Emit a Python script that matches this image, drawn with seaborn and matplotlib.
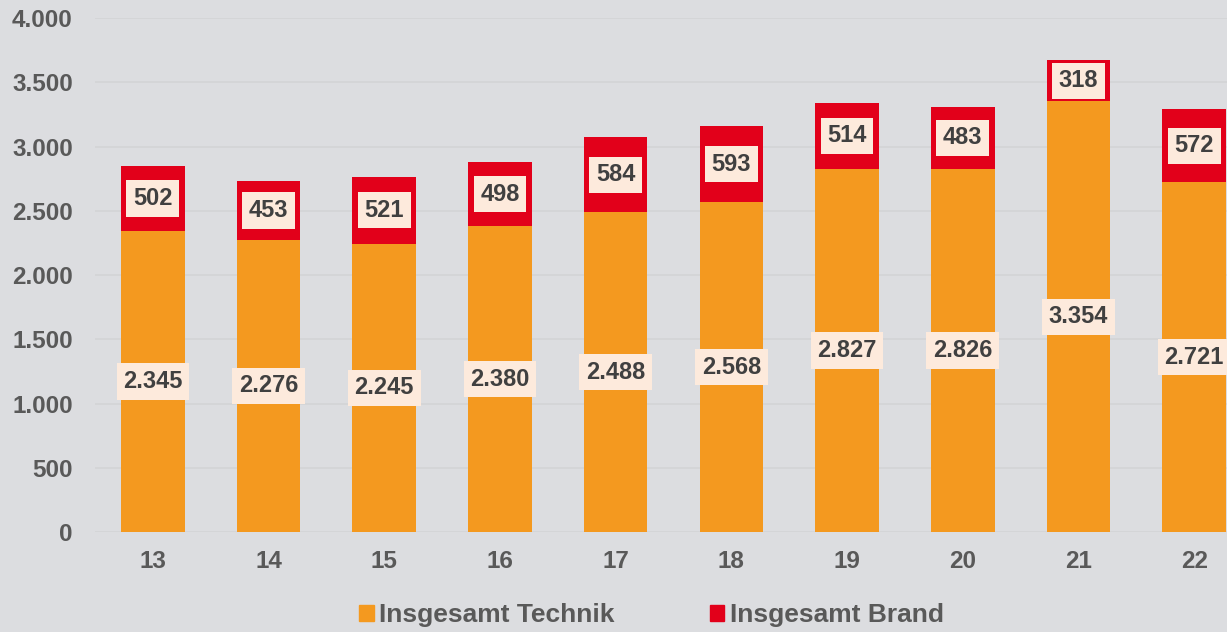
import matplotlib
matplotlib.use("Agg")
import matplotlib.pyplot as plt
import matplotlib.patches as mpatches
import pandas as pd
import seaborn as sns

# Data
years = ["13", "14", "15", "16", "17", "18", "19", "20", "21", "22"]
technik = [2345, 2276, 2245, 2380, 2488, 2568, 2827, 2826, 3354, 2721]
brand = [502, 453, 521, 498, 584, 593, 514, 483, 318, 572]
y_ticks = [0, 500, 1000, 1500, 2000, 2500, 3000, 3500, 4000]

bg = "#dcdde0"
orange = "#f4991f"
red = "#e2001a"
txt = "#595959"
label_col = "#404040"
box_col = "#fdeadc"

sns.set_theme(style="white")
plt.rcParams["font.family"] = ["Liberation Sans", "DejaVu Sans"]
plt.rcParams["font.weight"] = "bold"

df = pd.DataFrame({"year": years, "technik": technik, "brand": brand})
df["total"] = df["technik"] + df["brand"]

fig = plt.figure(figsize=(12.27, 6.32), dpi=100, facecolor=bg)
ax = fig.add_axes([0.0774, 0.158, 0.943, 0.8133])
ax.set_facecolor(bg)

# Stacked bars: total in red, technik in orange on top of it
sns.barplot(data=df, x="year", y="total", color=red, width=0.55,
            saturation=1, ax=ax, linewidth=0)
sns.barplot(data=df, x="year", y="technik", color=orange, width=0.55,
            saturation=1, ax=ax, linewidth=0)

# Value labels in light boxes
box = dict(boxstyle="square,pad=0.28", facecolor=box_col, edgecolor="none")
for i, row in df.iterrows():
    ax.text(i, row["technik"] / 2, f"{row['technik']:,}".replace(",", "."),
            ha="center", va="center", fontsize=17, fontweight="bold",
            color=label_col, bbox=box, zorder=5)
    ax.text(i, row["technik"] + row["brand"] / 2, f"{row['brand']}",
            ha="center", va="center", fontsize=17, fontweight="bold",
            color=label_col, bbox=box, zorder=5)

ax.set_ylim(0, 4000)
ax.set_xlim(-0.5, 9.5)
ax.set_yticks(y_ticks)
ax.set_yticklabels([f"{v:,}".replace(",", ".") for v in y_ticks])
ax.yaxis.grid(True, color="#d3d4d6", linewidth=1.2)
ax.set_axisbelow(True)
ax.tick_params(axis="both", length=0, labelsize=17.5, labelcolor=txt)
ax.tick_params(axis="y", pad=16)
ax.tick_params(axis="x", pad=13)
for lbl in ax.get_xticklabels() + ax.get_yticklabels():
    lbl.set_fontweight("bold")
ax.set_xlabel("")
ax.set_ylabel("")
sns.despine(ax=ax, left=True, bottom=True)

handles = [
    mpatches.Patch(color=orange, label="Insgesamt Technik"),
    mpatches.Patch(color=red, label="Insgesamt Brand"),
]
fig.legend(handles=handles, loc="center", bbox_to_anchor=(0.531, 0.027),
           ncol=2, frameon=False, labelcolor=txt,
           handlelength=0.55, handleheight=0.55, handletextpad=0.2,
           columnspacing=3.6, prop={"weight": "bold", "size": 19})

fig.savefig("out.png", dpi=100, facecolor=bg)
